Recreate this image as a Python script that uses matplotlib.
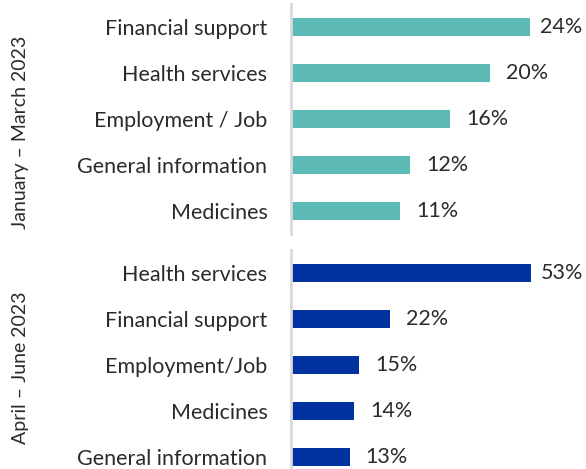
import matplotlib
matplotlib.use("Agg")
import matplotlib.pyplot as plt

# Top requests by quarter
q1_title = "January – March 2023"
q1_labels = ["Financial support", "Health services", "Employment / Job",
             "General information", "Medicines"]
q1_values = [24, 20, 16, 12, 11]

q2_title = "April – June 2023"
q2_labels = ["Health services", "Financial support", "Employment/Job",
             "Medicines", "General information"]
q2_values = [53, 22, 15, 14, 13]

TEAL = "#5DB9B3"
BLUE = "#0033A0"
TEXT = "#2b2b2b"
SPINE = "#d9d9d9"

plt.rcParams["font.family"] = ["Lato", "DejaVu Sans"]

W, H = 586, 469
fig = plt.figure(figsize=(W / 100, H / 100), dpi=100)


def px_axes(left, top, right, bottom):
    return fig.add_axes([left / W, 1 - bottom / H, (right - left) / W, (bottom - top) / H])


def draw_panel(ax, labels, values, color, title, xmax, ybottom):
    ys = range(len(values))
    ax.barh(ys, values, height=0.41, color=color)
    ax.set_xlim(0, xmax)
    ax.set_ylim(ybottom, -0.5)
    ax.set_yticks(list(ys))
    ax.set_yticklabels(labels, fontsize=15.5, color=TEXT)
    ax.tick_params(axis="y", length=0, pad=17)
    ax.set_xticks([])
    for side in ["top", "right", "bottom"]:
        ax.spines[side].set_visible(False)
    ax.spines["left"].set_color(SPINE)
    ax.spines["left"].set_linewidth(2)
    top = max(values)
    for y, v in zip(ys, values):
        pad = 10 if v == top else 16
        ax.annotate(f"{v}%", (v, y), xytext=(pad, 0), textcoords="offset pixels",
                    va="center", ha="left", fontsize=15.5, color=TEXT)
    ax.set_facecolor("none")


ax1 = px_axes(291, 4, 586, 234)
draw_panel(ax1, q1_labels, q1_values, TEAL, q1_title, 295 / 9.95, 4.5)

ax2 = px_axes(291, 250, 586, 469)
draw_panel(ax2, q2_labels, q2_values, BLUE, q2_title, 295 / 4.52, -0.5 + 219 / 46)

fig.text(21 / W, 1 - 132 / H, q1_title, rotation=90, ha="center", va="center",
         fontsize=14, color=TEXT)
fig.text(21 / W, 1 - 368 / H, q2_title, rotation=90, ha="center", va="center",
         fontsize=14, color=TEXT)

fig.savefig("out.png", dpi=100)
